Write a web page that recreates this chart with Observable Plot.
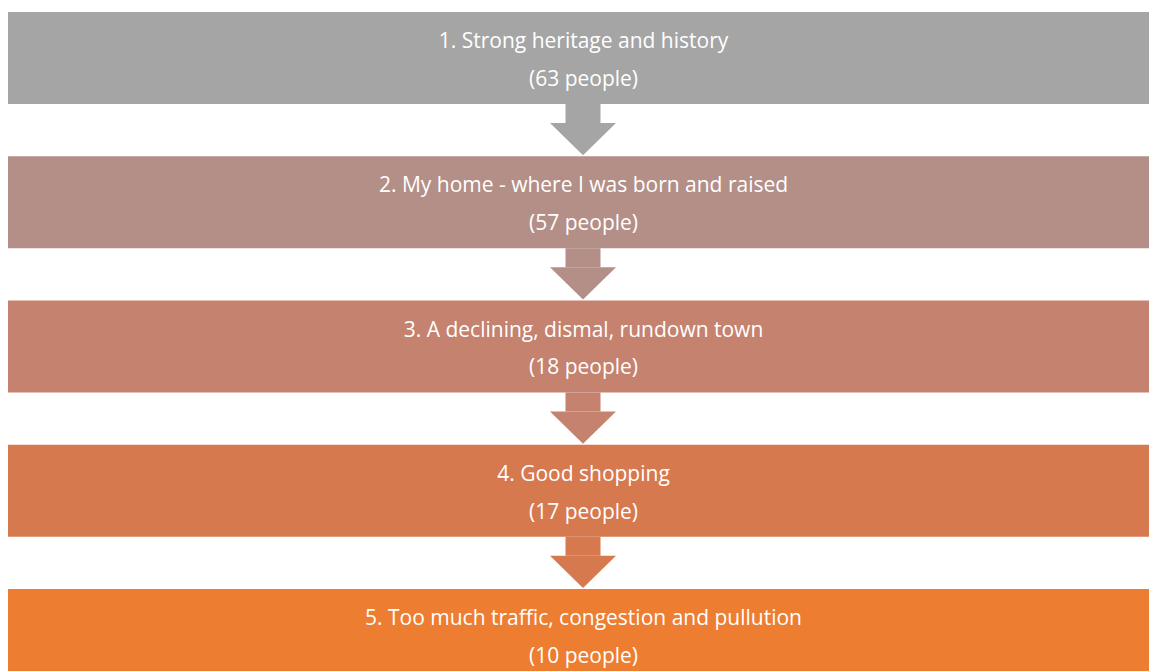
<!DOCTYPE html>
<html>
<head>
<meta charset="utf-8">
<script src="https://cdn.jsdelivr.net/npm/d3@7"></script>
<script src="https://cdn.jsdelivr.net/npm/@observablehq/plot@0.6"></script>
<style>
  html, body { margin: 0; padding: 0; background: #fff; overflow: hidden; }
</style>
</head>
<body>
<div id="chart"></div>
<script>
// ---- data ----
const ranks = [1, 2, 3, 4, 5];
const labels = [
  "Strong heritage and history",
  "My home - where I was born and raised",
  "A declining, dismal, rundown town",
  "Good shopping",
  "Too much traffic, congestion and pullution"
];
const people = [63, 57, 18, 17, 10];
const colors = ["#A5A5A5", "#B38F88", "#C5826F", "#D7794F", "#ED7D31"];

// ---- layout (in scale units) ----
const STEP = 144.25;               // px per rank step
const boxH = 92 / STEP;            // box height in rank units
const stemH = 19 / STEP;
const tipGap = 1 / STEP;
const halfBox = 575, halfStem = 17.5, halfHead = 33;

const boxes = ranks.map((r, i) => ({
  i, y1: i, y2: i + boxH, color: colors[i],
  text: `${r}. ${labels[i]}\n(${people[i]} people)`
}));

const stems = ranks.slice(0, -1).map((r, i) => ({
  i, y1: i + boxH, y2: i + boxH + stemH, color: colors[i]
}));

const heads = [];
ranks.slice(0, -1).forEach((r, i) => {
  const top = i + boxH + stemH, tip = i + 1 - tipGap;
  heads.push({i, x: -halfHead, y1: top, y2: top, color: colors[i]});
  heads.push({i, x: 0, y1: top, y2: tip, color: colors[i]});
  heads.push({i, x: halfHead, y1: top, y2: top, color: colors[i]});
});

const chart = Plot.plot({
  width: 1149,
  height: 671,
  margin: 0,
  style: {fontFamily: "'Open Sans', Lato, sans-serif", background: "#fff"},
  x: {type: "linear", domain: [-halfBox, halfBox], range: [8, 1158], axis: null},
  y: {type: "linear", domain: [0, 5], range: [12, 12 + 5 * STEP], axis: null},
  marks: [
    Plot.rect(boxes, {x1: -halfBox, x2: halfBox, y1: "y1", y2: "y2", fill: d => d.color}),
    Plot.rect(stems, {x1: -halfStem, x2: halfStem, y1: "y1", y2: "y2", fill: d => d.color}),
    Plot.areaY(heads, {x: "x", y1: "y1", y2: "y2", z: "i", fill: d => d.color, curve: "linear"}),
    Plot.text(boxes, {
      x: 0, y: d => (d.y1 + d.y2) / 2 - 3.5 / STEP, text: "text",
      fill: "white", fontSize: 21, lineHeight: 1.8, textAnchor: "middle"
    })
  ]
});
document.getElementById("chart").append(chart);
</script>
</body>
</html>
